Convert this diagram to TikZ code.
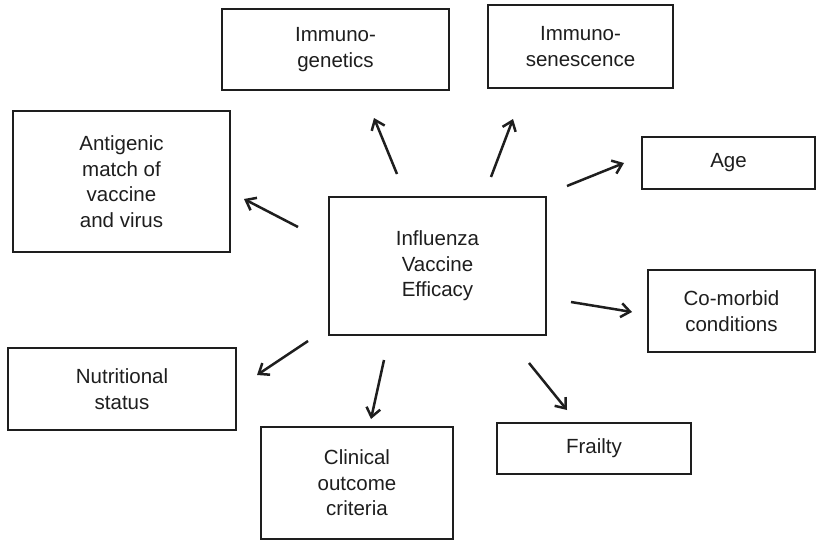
\documentclass[tikz,border=0pt]{standalone}
\usepackage{fontspec}
\setmainfont{Liberation Sans}
\usetikzlibrary{arrows.meta}
\definecolor{ink}{HTML}{1E1E1E}
\tikzset{
  box/.style={draw=ink, line width=2.6pt, align=center, inner sep=2pt,
    text=ink, font=\fontsize{20.5pt}{25.5pt}\selectfont},
  arr/.style={draw=ink, line width=2.5pt,
    -{Straight Barb[length=9pt, width=14pt, line width=2.5pt]}}
}
\begin{document}
\begin{tikzpicture}[x=1pt, y=-1pt]
\useasboundingbox (0,0) rectangle (817,543);
\fill[white] (0,0) rectangle (817,543);
% boxes
\node[box, minimum width=227pt, minimum height=81pt] (gen) at (335.5,49.5) {Immuno-\\genetics};
\node[box, minimum width=185pt, minimum height=83pt] (sen) at (580.5,46.5) {Immuno-\\senescence};
\node[box, minimum width=217pt, minimum height=141pt] (ant) at (121.5,181.5) {Antigenic\\match of\\vaccine\\and virus};
\node[box, minimum width=217pt, minimum height=138pt] (ive) at (437.5,266) {Influenza\\Vaccine\\Efficacy};
\node[box, minimum width=173pt, minimum height=52pt] (age) at (728.5,163) {Age};
\node[box, minimum width=167pt, minimum height=82pt] (com) at (731.5,311) {Co-morbid\\conditions};
\node[box, minimum width=228pt, minimum height=82pt] (nut) at (122,389) {Nutritional\\status};
\node[box, minimum width=192pt, minimum height=112pt] (cli) at (357,483) {Clinical\\outcome\\criteria};
\node[box, minimum width=194pt, minimum height=51pt] (fra) at (594,448.5) {Frailty};
% arrow ends
\coordinate (a1s) at (298,227); \coordinate (a1e) at (244,199);
\coordinate (a2s) at (397,174); \coordinate (a2e) at (374,118);
\coordinate (a3s) at (491,177); \coordinate (a3e) at (513,119);
\coordinate (a4s) at (567,186); \coordinate (a4e) at (624,163);
\coordinate (a5s) at (571,302); \coordinate (a5e) at (632,312);
\coordinate (a6s) at (308,341); \coordinate (a6e) at (257,375);
\coordinate (a7s) at (384,360); \coordinate (a7e) at (371,419);
\coordinate (a8s) at (529,363); \coordinate (a8e) at (567,410);
\draw[arr] (a1s) -- (a1e);
\draw[arr] (a2s) -- (a2e);
\draw[arr] (a3s) -- (a3e);
\draw[arr] (a4s) -- (a4e);
\draw[arr] (a5s) -- (a5e);
\draw[arr] (a6s) -- (a6e);
\draw[arr] (a7s) -- (a7e);
\draw[arr] (a8s) -- (a8e);
\end{tikzpicture}
\end{document}
